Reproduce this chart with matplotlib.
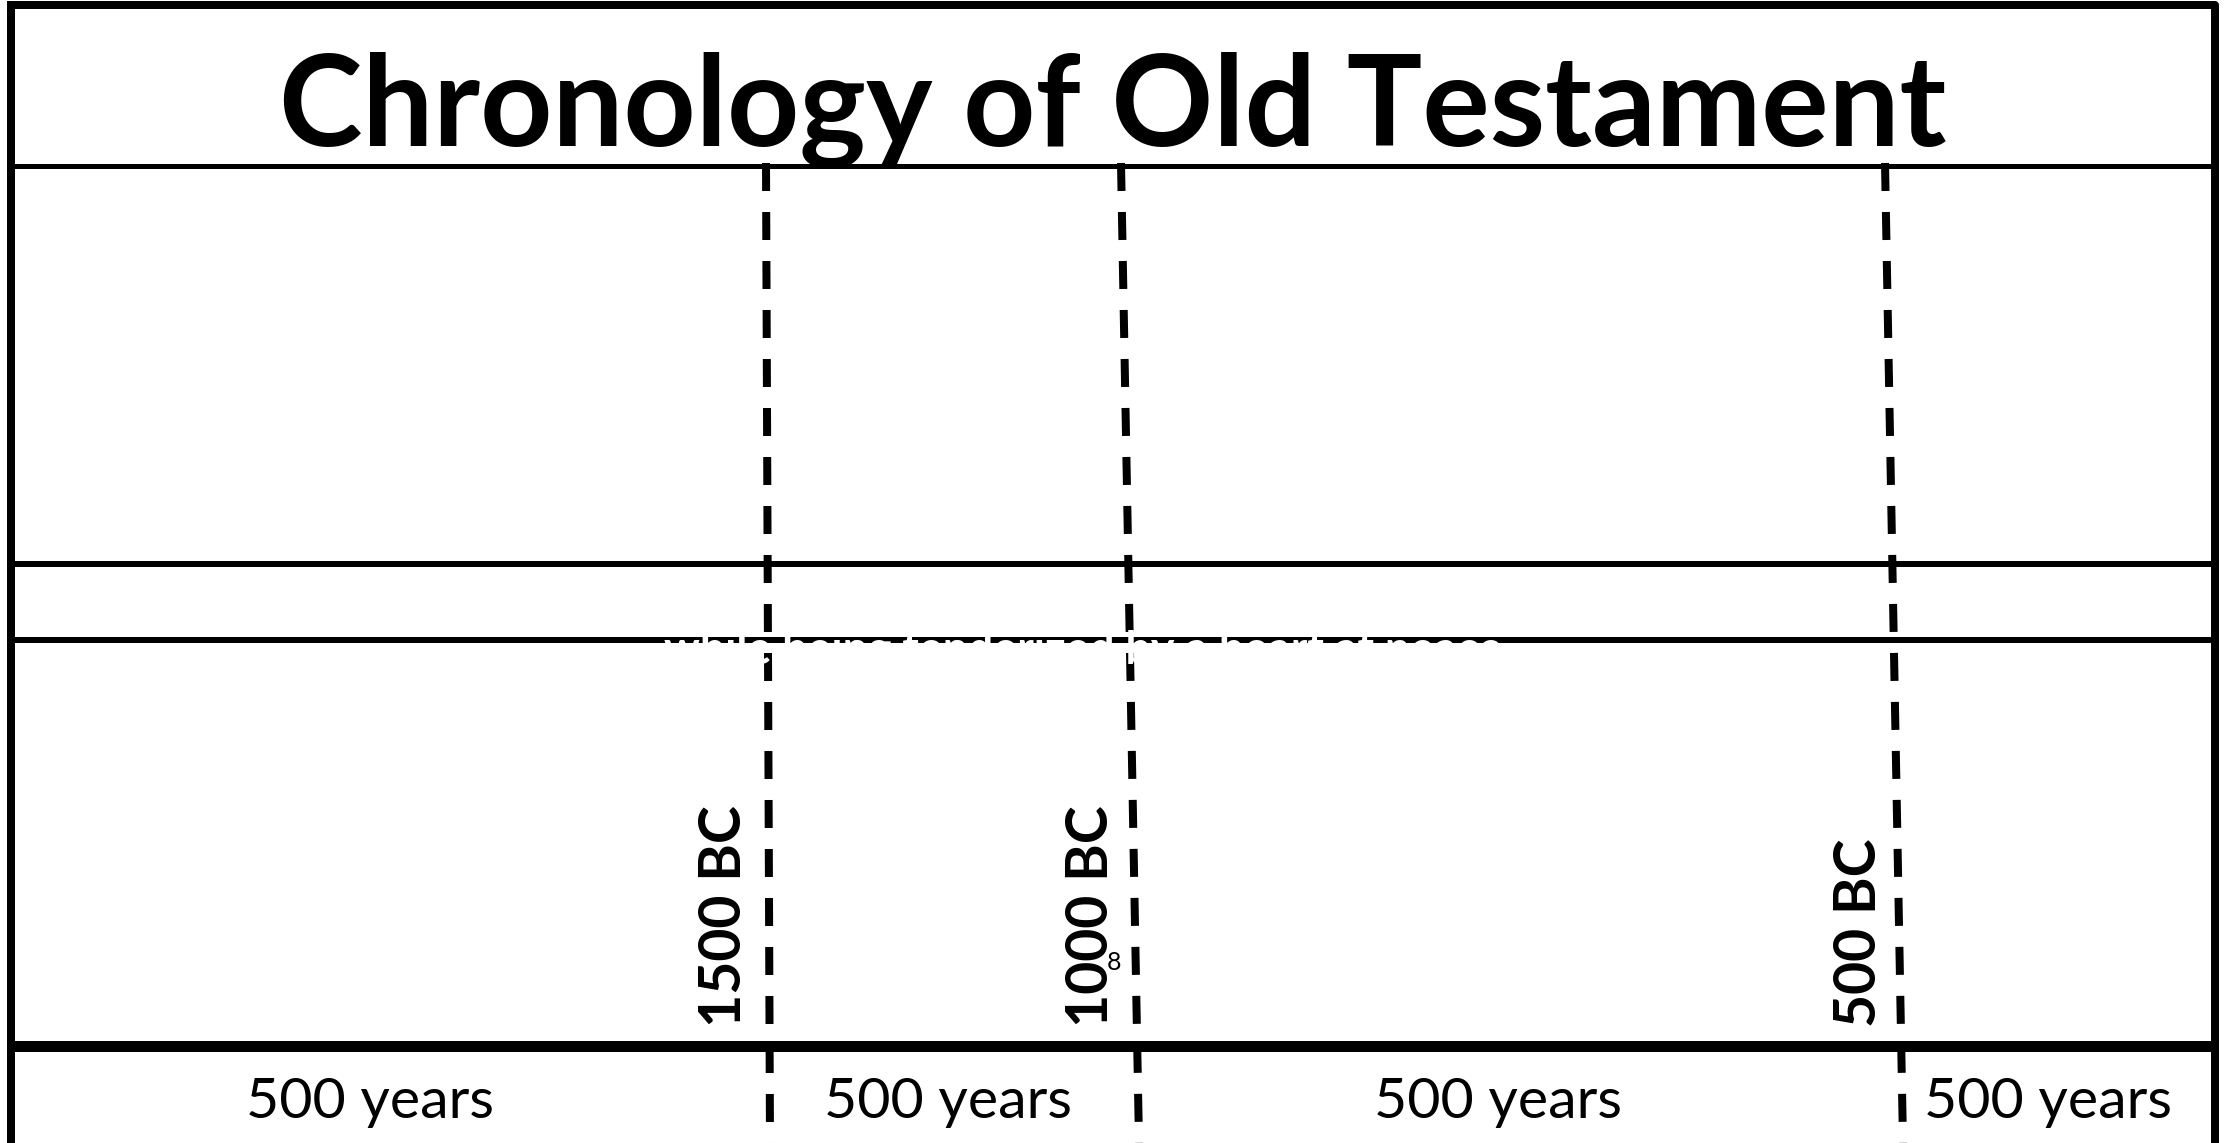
import matplotlib
matplotlib.use("Agg")
import matplotlib.pyplot as plt

# ---------------- data ----------------
title = "Chronology of Old Testament"
boundary_labels = ["1500 BC", "1000 BC", "500 BC"]
span_labels = ["500 years", "500 years", "500 years", "500 years"]
hidden_line = "while being tenderized by a heart at peace"
slide_number = "8"

# ---------------- layout (pixel coordinates) ----------------
W, H = 2228, 1143
DPI = 100
PX = 72.0 / DPI  # points per pixel

border = dict(left=11, right=2215, top=5, bottom=1148, lw=8)
hlines_y = [166, 564, 640, 1046]
hlines_w = [5, 6, 6, 11]
dash_top_y, dash_bot_y = 163, 1143
dash_top_x = [766, 1121, 1885]
dash_bot_x = [770, 1139, 1903]
label_base_x = [741, 1108, 1876]
label_bottom_y = 1027
span_cx = [370, 948, 1498, 2048]
span_base_y = 1118
title_cx, title_base_y, title_width = 1113, 146, 1667
span_width = 248
label_len = 222
hidden_cx, hidden_base_y, hidden_width = 1083, 664, 838
num_xy = (1114, 970)

plt.rcParams["lines.scale_dashes"] = False
FONT = "Lato"

fig = plt.figure(figsize=(W / DPI, H / DPI), dpi=DPI)
fig.patch.set_facecolor("white")
ax = fig.add_axes([0, 0, 1, 1])
ax.set_xlim(0, W)
ax.set_ylim(H, 0)
ax.axis("off")

# outer border
bx = [border["left"], border["right"], border["right"], border["left"], border["left"]]
by = [border["top"], border["top"], border["bottom"], border["bottom"], border["top"]]
ax.plot(bx, by, color="black", lw=border["lw"] * PX, solid_joinstyle="round", zorder=3)

# horizontal rules
for y, w in zip(hlines_y, hlines_w):
    ax.plot([border["left"], border["right"]], [y, y], color="black",
            lw=w * PX, solid_capstyle="butt", zorder=2)

# dashed era boundaries
for x0, x1 in zip(dash_top_x, dash_bot_x):
    ax.plot([x0, x1], [dash_top_y, dash_bot_y], color="black", lw=8 * PX,
            dashes=(28 * PX, 21 * PX), dash_capstyle="butt", zorder=2)

fig.canvas.draw()
renderer = fig.canvas.get_renderer()


def fit(t, target, use_height=False):
    bb = t.get_window_extent(renderer)
    cur = bb.height if use_height else bb.width
    t.set_fontsize(t.get_fontsize() * target / cur)


# title
t = ax.text(title_cx, title_base_y, title, ha="center", va="baseline",
            fontsize=100, fontweight="bold", family=FONT, color="black", zorder=5)
fit(t, title_width)

# rotated boundary labels
lab_texts = []
for lab, x in zip(boundary_labels, label_base_x):
    lt = ax.text(x, label_bottom_y, lab, rotation=90, rotation_mode="anchor",
                 ha="left", va="baseline", fontsize=50, fontweight="bold",
                 family=FONT, color="black", zorder=5)
    lab_texts.append(lt)
bb = lab_texts[0].get_window_extent(renderer)
size = lab_texts[0].get_fontsize() * label_len / bb.height
for lt in lab_texts:
    lt.set_fontsize(size)

# span labels
sp_texts = []
for lab, x in zip(span_labels, span_cx):
    st = ax.text(x, span_base_y, lab, ha="center", va="baseline", fontsize=50,
                 family=FONT, color="black", zorder=5)
    sp_texts.append(st)
bb = sp_texts[0].get_window_extent(renderer)
size = sp_texts[0].get_fontsize() * span_width / bb.width
for st in sp_texts:
    st.set_fontsize(size)

# slide number
ax.text(num_xy[0], num_xy[1], slide_number, ha="center", va="baseline",
        fontsize=18, family=FONT, color="black", zorder=5)

# hidden white text
ht = ax.text(hidden_cx, hidden_base_y, hidden_line, ha="center", va="baseline",
             fontsize=30, fontweight="bold", family=FONT, color="white", zorder=6)
fit(ht, hidden_width)

fig.savefig("out.png", dpi=DPI, facecolor="white")
